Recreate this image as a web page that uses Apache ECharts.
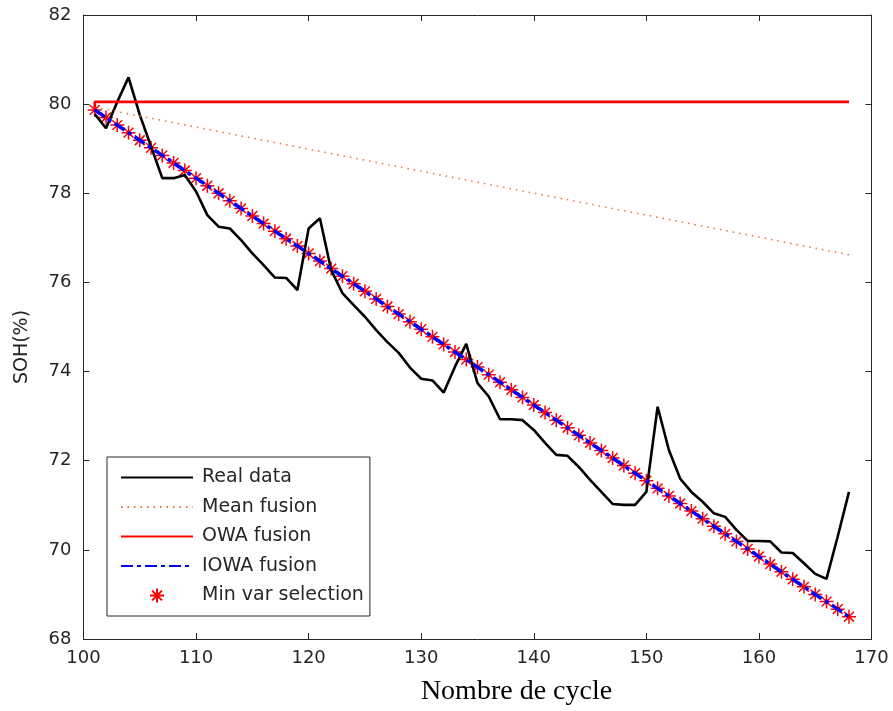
<!DOCTYPE html>
<html>
<head>
<meta charset="utf-8">
<script src="https://cdn.jsdelivr.net/npm/echarts@6/dist/echarts.min.js"></script>
<style>
  html, body { margin: 0; padding: 0; background: #fff; }
  #main { width: 893px; height: 711px; }
</style>
</head>
<body>
<div id="main"></div>
<script>
// cycle numbers (x)
var cycles = [101, 102, 103, 104, 105, 106, 107, 108, 109, 110,
  111, 112, 113, 114, 115, 116, 117, 118, 119, 120,
  121, 122, 123, 124, 125, 126, 127, 128, 129, 130,
  131, 132, 133, 134, 135, 136, 137, 138, 139, 140,
  141, 142, 143, 144, 145, 146, 147, 148, 149, 150,
  151, 152, 153, 154, 155, 156, 157, 158, 159, 160,
  161, 162, 163, 164, 165, 166, 167, 168];

// measured SOH
var realData = [79.78, 79.46, 80.05, 80.6, 79.76, 79.05, 78.34, 78.34, 78.41, 78.04,
  77.51, 77.25, 77.21, 76.95, 76.65, 76.39, 76.11, 76.10, 75.83, 77.21,
  77.44, 76.28, 75.76, 75.49, 75.23, 74.93, 74.66, 74.42, 74.09, 73.84,
  73.80, 73.53, 74.11, 74.62, 73.74, 73.44, 72.93, 72.93, 72.91, 72.69,
  72.40, 72.13, 72.11, 71.86, 71.57, 71.30, 71.03, 71.01, 71.01, 71.30,
  73.21, 72.24, 71.60, 71.30, 71.08, 70.82, 70.74, 70.45, 70.20, 70.20,
  70.19, 69.94, 69.93, 69.70, 69.46, 69.35, 70.30, 71.30];

// min variance selection (IOWA fusion lies on the same points)
var minVar = [79.87, 79.70, 79.53, 79.36, 79.19, 79.02, 78.85, 78.68, 78.51, 78.34,
  78.17, 78.00, 77.83, 77.66, 77.49, 77.32, 77.15, 76.98, 76.82, 76.65,
  76.48, 76.31, 76.14, 75.97, 75.80, 75.63, 75.46, 75.29, 75.12, 74.95,
  74.78, 74.61, 74.44, 74.27, 74.10, 73.93, 73.76, 73.59, 73.42, 73.25,
  73.08, 72.91, 72.74, 72.57, 72.40, 72.23, 72.06, 71.89, 71.72, 71.55,
  71.38, 71.21, 71.04, 70.87, 70.70, 70.53, 70.36, 70.19, 70.02, 69.85,
  69.68, 69.51, 69.34, 69.17, 69.00, 68.84, 68.67, 68.50];
var iowa = minVar;

// straight fusions: [cycle, SOH]
var meanFusion = [[101, 79.93], [168, 76.62]];
var owaFusion = [[101, 79.9], [101, 80.05], [168, 80.05]];

var xTicks = [100, 110, 120, 130, 140, 150, 160, 170];
var yTicks = [68, 70, 72, 74, 76, 78, 80, 82];

function pairs(xs, ys) {
  var out = [];
  for (var i = 0; i < xs.length; i++) out.push([xs[i], ys[i]]);
  return out;
}

var asterisk = 'path://M5,0L5,10M0,5L10,5M1.5,1.5L8.5,8.5M8.5,1.5L1.5,8.5';
var axisColor = '#262626';
var tickFont = 'DejaVu Sans';

var chartDom = document.getElementById('main');
var myChart = echarts.init(chartDom);

function mirrorAxis(pos, min, max, step) {
  return {
    type: 'value', position: pos, min: min, max: max, interval: step,
    axisLine: { show: true, onZero: false, lineStyle: { color: axisColor, width: 1 } },
    axisTick: { show: true, inside: true, length: 6, lineStyle: { color: axisColor } },
    axisLabel: { show: false },
    splitLine: { show: false }
  };
}

// legend entries for lines: hide the marker dot, keep only the line
function lineEntry(name) {
  return { name: name, itemStyle: { opacity: 0 } };
}

var option = {
  animation: false,
  backgroundColor: '#fff',
  grid: { left: 83.5, right: 21.5, top: 15, bottom: 72 },
  legend: {
    orient: 'vertical',
    left: 107,
    top: 457,
    backgroundColor: '#fff',
    borderColor: axisColor,
    borderWidth: 1,
    borderRadius: 0,
    padding: [11, 6, 11, 13],
    itemWidth: 72,
    itemHeight: 14,
    itemGap: 10.5,
    textStyle: { fontFamily: tickFont, fontSize: 19, color: axisColor, padding: [0, 0, 0, 4] },
    data: [lineEntry('Real data'), lineEntry('Mean fusion'), lineEntry('OWA fusion'),
      lineEntry('IOWA fusion'), 'Min var selection']
  },
  xAxis: [
    {
      type: 'value', position: 'bottom', min: 100, max: 170, interval: 10,
      name: 'Nombre de cycle', nameLocation: 'middle', nameGap: 39,
      nameTextStyle: {
        fontFamily: 'Liberation Serif', fontSize: 28, color: '#000',
        padding: [0, 0, 0, 78]
      },
      axisLine: { show: true, onZero: false, lineStyle: { color: axisColor, width: 1 } },
      axisTick: { show: true, inside: true, length: 6, lineStyle: { color: axisColor } },
      axisLabel: {
        margin: 10, fontFamily: tickFont, fontSize: 18, color: axisColor,
        customValues: xTicks
      },
      splitLine: { show: false }
    },
    mirrorAxis('top', 100, 170, 10)
  ],
  yAxis: [
    {
      type: 'value', position: 'left', min: 68, max: 82, interval: 2,
      name: 'SOH(%)', nameLocation: 'middle', nameGap: 52, nameRotate: 90,
      nameTextStyle: {
        fontFamily: tickFont, fontSize: 19, color: axisColor,
        padding: [0, 40, 0, 0]
      },
      axisLine: { show: true, onZero: false, lineStyle: { color: axisColor, width: 1 } },
      axisTick: { show: true, inside: true, length: 6, lineStyle: { color: axisColor } },
      axisLabel: {
        margin: 12, fontFamily: tickFont, fontSize: 18, color: axisColor,
        customValues: yTicks
      },
      splitLine: { show: false }
    },
    mirrorAxis('right', 68, 82, 2)
  ],
  series: [
    {
      name: 'Real data', type: 'line', data: pairs(cycles, realData),
      symbol: 'none', lineStyle: { color: '#000', width: 2.6 }, itemStyle: { color: '#000' }
    },
    {
      name: 'Mean fusion', type: 'line', data: meanFusion,
      symbol: 'none', lineStyle: { color: '#e8703a', width: 1.5, type: [1.5, 5] },
      itemStyle: { color: '#e8703a' }
    },
    {
      name: 'OWA fusion', type: 'line', data: owaFusion,
      symbol: 'none', lineStyle: { color: '#ff0000', width: 2.8 }, itemStyle: { color: '#ff0000' }
    },
    {
      name: 'IOWA fusion', type: 'line', data: pairs(cycles, iowa),
      symbol: 'none', lineStyle: { color: '#0000ff', width: 3.5, type: [12, 4, 4, 4] },
      itemStyle: { color: '#0000ff' }
    },
    {
      name: 'Min var selection', type: 'scatter', data: pairs(cycles, minVar),
      symbol: asterisk, symbolSize: 14,
      itemStyle: { color: 'rgba(0,0,0,0)', borderColor: '#ff0000', borderWidth: 1.5, opacity: 1 }
    }
  ]
};

option && myChart.setOption(option);
</script>
</body>
</html>
